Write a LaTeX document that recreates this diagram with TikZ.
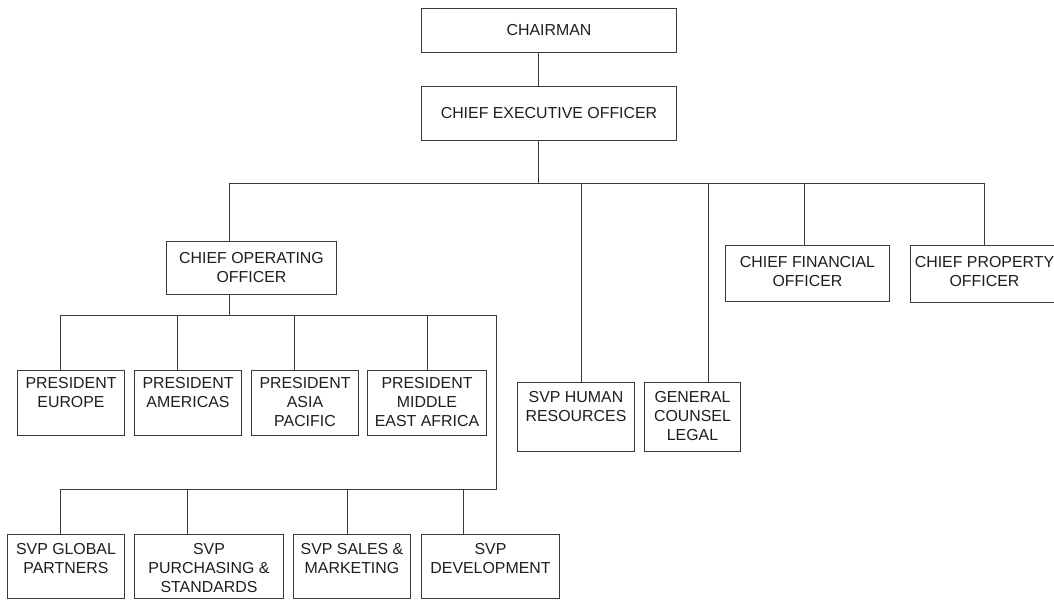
\documentclass[tikz,border=0pt]{standalone}
\usepackage{fontspec}
\setmainfont{Liberation Sans}
\definecolor{ink}{HTML}{1E1E1E}
\definecolor{linec}{HTML}{3A3A3A}
\tikzset{
  box/.style={draw=linec, line width=1pt, fill=none, inner sep=0pt, rectangle},
  lbl/.style={inner sep=0pt, align=center, text=ink, font=\fontsize{15.9}{19}\selectfont},
  conn/.style={draw=linec, line width=1pt}
}
\newcommand{\orgbox}[7]{%
  \node[box, anchor=north west, minimum width={(#4-#2)*1pt}, minimum height={(#5-#3)*1pt}] (#1) at (#2,#3) {};
  \node[lbl, anchor=north] (#1t) at ([yshift=-#6pt]#1.north) {#7};}
\begin{document}
\begin{tikzpicture}[x=1pt,y=-1pt]
\clip (0,0) rectangle (1054,600);
\fill[white] (0,0) rectangle (1054,600);
% boxes
\orgbox{chair}{421}{8}{676}{52}{16}{CHAIRMAN}
\orgbox{ceo}{421}{86}{676}{140}{21}{CHIEF EXECUTIVE OFFICER}
\orgbox{coo}{166}{241}{336}{294}{11}{CHIEF OPERATING\\OFFICER}
\orgbox{hr}{517}{382}{634}{451}{9}{SVP HUMAN\\RESOURCES}
\orgbox{gc}{644}{382}{740}{451}{9}{GENERAL\\COUNSEL\\LEGAL}
\orgbox{cfo}{725}{245}{889}{301}{11.6}{CHIEF FINANCIAL\\OFFICER}
\orgbox{cpo}{910}{245}{1058}{302}{11.6}{CHIEF PROPERTY\\OFFICER}
\orgbox{eur}{17}{370}{124}{435}{7}{PRESIDENT\\EUROPE}
\orgbox{ame}{134}{370}{241}{435}{7}{PRESIDENT\\AMERICAS}
\orgbox{asia}{251}{370}{358}{435}{7}{PRESIDENT\\ASIA\\PACIFIC}
\orgbox{mea}{367}{370}{486}{435}{7}{PRESIDENT\\MIDDLE\\EAST AFRICA}
\orgbox{gp}{7}{534}{124}{598}{9}{SVP GLOBAL\\PARTNERS}
\orgbox{pur}{134}{534}{283}{598}{9}{SVP\\PURCHASING \&\\STANDARDS}
\orgbox{sal}{293}{534}{410}{598}{9}{SVP SALES \&\\MARKETING}
\orgbox{dev}{421}{534}{559}{598}{9}{SVP\\DEVELOPMENT}
% top bus
\coordinate (ja) at (538,183);
\coordinate (jl) at (229,183);
\coordinate (jr) at (984,183);
\coordinate (jhr) at (581,183);
\coordinate (jgc) at (708,183);
\coordinate (jcfo) at (804,183);
\draw[conn] (chair.south -| ja) -- (ceo.north -| ja);
\draw[conn] (ceo.south -| ja) -- (ja);
\draw[conn] (jl) -- (jr);
\draw[conn] (jl) -- (coo.north -| jl);
\draw[conn] (jhr) -- (hr.north -| jhr);
\draw[conn] (jgc) -- (gc.north -| jgc);
\draw[conn] (jcfo) -- (cfo.north -| jcfo);
\draw[conn] (jr) -- (cpo.north -| jr);
% COO bus
\coordinate (kb) at (229,315);
\coordinate (kl) at (60,315);
\coordinate (kr) at (496,315);
\coordinate (k2) at (177,315);
\coordinate (k3) at (294,315);
\coordinate (k4) at (427,315);
\draw[conn] (coo.south -| kb) -- (kb);
\draw[conn] (kl) -- (kr);
\draw[conn] (kl) -- (eur.north -| kl);
\draw[conn] (k2) -- (ame.north -| k2);
\draw[conn] (k3) -- (asia.north -| k3);
\draw[conn] (k4) -- (mea.north -| k4);
% lower bus
\coordinate (ml) at (60,489);
\coordinate (mr) at (496,489);
\coordinate (m2) at (187,489);
\coordinate (m3) at (347,489);
\coordinate (m4) at (463,489);
\draw[conn] (kr) -- (mr) -- (ml);
\draw[conn] (ml) -- (gp.north -| ml);
\draw[conn] (m2) -- (pur.north -| m2);
\draw[conn] (m3) -- (sal.north -| m3);
\draw[conn] (m4) -- (dev.north -| m4);
\end{tikzpicture}
\end{document}
